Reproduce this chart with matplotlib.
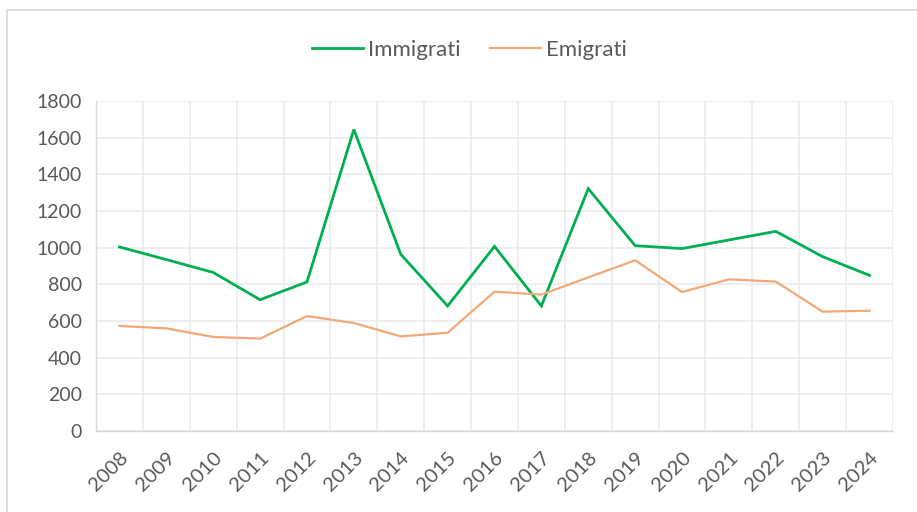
import numpy as np
import matplotlib
matplotlib.use('Agg')
from matplotlib import pyplot as plt
from matplotlib.patches import Rectangle

plt.rcParams['font.family'] = ['Lato', 'DejaVu Sans']

anni = ['2008', '2009', '2010', '2011', '2012', '2013', '2014', '2015', '2016',
        '2017', '2018', '2019', '2020', '2021', '2022', '2023', '2024']
immigrati = [1004, 935, 865, 716, 813, 1645, 964, 682, 1007,
             682, 1322, 1011, 995, 1042, 1089, 951, 849]
emigrati = [573, 560, 513, 504, 627, 589, 516, 536, 760,
            744, 838, 931, 758, 827, 815, 651, 656]

testo = '#595959'
griglia = '#EBEBEB'

fig = plt.figure(figsize=(9.17, 5.12), dpi=100)
ax = fig.add_axes([0.1047, 0.1582, 0.8691, 0.6445])

x = np.arange(len(anni))
ax.plot(x, immigrati, color='#00B050', lw=2.0, label='Immigrati', solid_joinstyle='miter')
ax.plot(x, emigrati, color='#F3A878', lw=1.6, label='Emigrati')

ax.set_xlim(-0.5, len(anni) - 0.5)
ax.set_ylim(0, 1800)
ax.set_yticks(np.arange(0, 1801, 200))
ax.set_xticks(x)
ax.set_xticklabels(anni, rotation=45, ha='right', va='top', rotation_mode='anchor')
ax.set_xticks(np.arange(-0.5, len(anni), 1), minor=True)

ax.tick_params(axis='both', which='both', length=0, colors=testo, labelsize=14)
ax.tick_params(axis='x', labelsize=14.5, pad=13)
ax.tick_params(axis='y', pad=10)
ax.grid(axis='y', color=griglia, lw=1.2)
ax.grid(axis='x', which='minor', color=griglia, lw=1.2)
ax.set_axisbelow(True)

for s in ['top', 'right']:
    ax.spines[s].set_visible(False)
for s in ['left', 'bottom']:
    ax.spines[s].set_color('#D9D9D9')
    ax.spines[s].set_linewidth(1.0)

fig.legend(loc='center', bbox_to_anchor=(0.512, 0.903), ncol=2, frameon=False,
           fontsize=16, labelcolor=testo, handlelength=2.3, columnspacing=1.3,
           handletextpad=0.25)

# bordo dell'area del grafico
fig.patches.append(Rectangle((7 / 917, -0.1), 1.1, 1 - 10 / 512 + 0.1,
                             transform=fig.transFigure, fill=False,
                             edgecolor='#D9D9D9', lw=1.2))

fig.savefig('out.png', dpi=100, facecolor='white')
